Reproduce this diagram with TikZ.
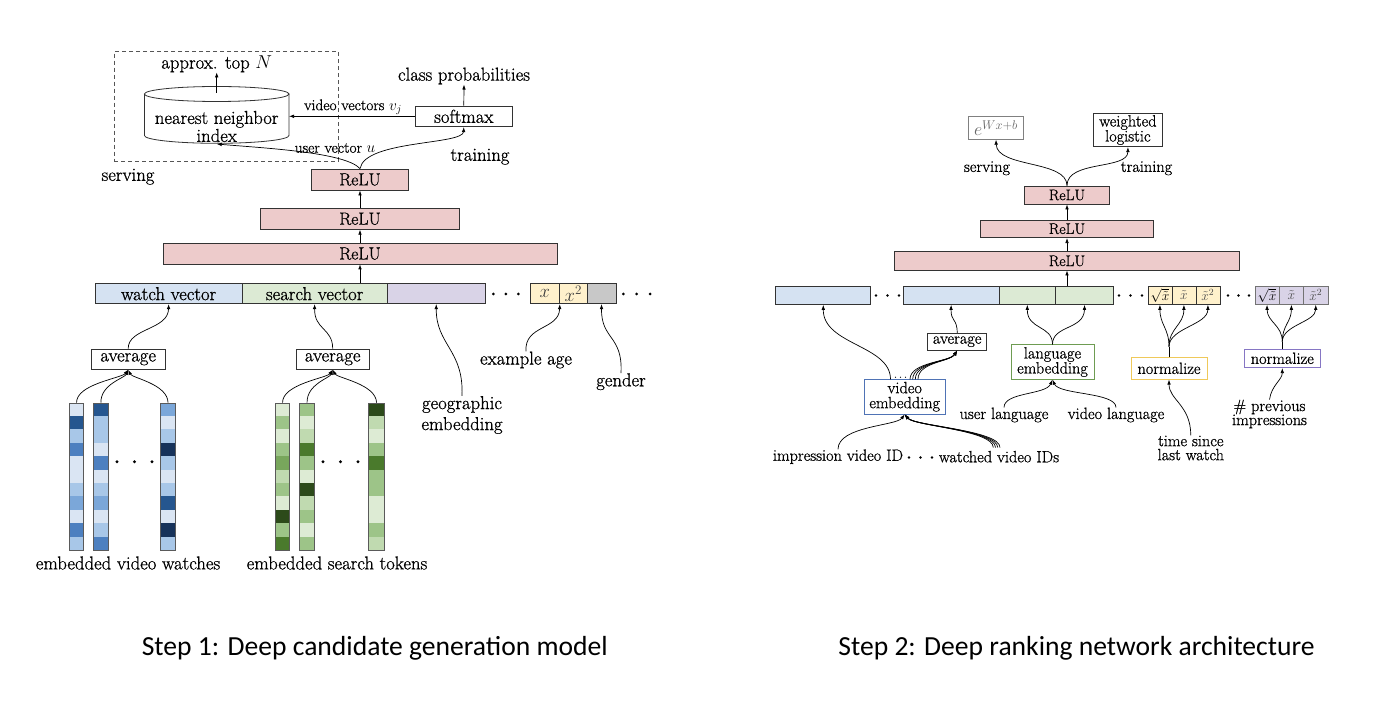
\RequirePackage{fix-cm}
\documentclass[tikz,border=0pt]{standalone}
\usepackage{fontspec}
\setmainfont{Latin Modern Roman}[FakeBold=0.8]
\newfontfamily\capfont{Carlito}
\usetikzlibrary{arrows.meta}
\definecolor{reluc}{HTML}{EDCBCB}
\definecolor{cblue}{HTML}{D5E2F2}
\definecolor{cgreen}{HTML}{DCEAD4}
\definecolor{cpurp}{HTML}{D9D3E7}
\definecolor{cyell}{HTML}{FFF1CC}
\definecolor{cgray}{HTML}{C8C8C8}
\definecolor{boxc}{HTML}{333333}
\definecolor{dashc}{HTML}{555555}
\definecolor{colbd}{HTML}{5A5A5A}
\definecolor{vembc}{HTML}{4F73B5}
\definecolor{lembc}{HTML}{6E9C52}
\definecolor{nyc}{HTML}{EFC95A}
\definecolor{npc}{HTML}{8676C4}
\definecolor{cbA}{HTML}{DAE5F3}
\definecolor{cbB}{HTML}{A8C7E8}
\definecolor{cbC}{HTML}{7BA7D9}
\definecolor{cbD}{HTML}{4D80C0}
\definecolor{cbE}{HTML}{25568F}
\definecolor{cbF}{HTML}{16325A}
\definecolor{cgA}{HTML}{DDEBD4}
\definecolor{cgB}{HTML}{C0DAB0}
\definecolor{cgC}{HTML}{9DC488}
\definecolor{cgD}{HTML}{78A65C}
\definecolor{cgE}{HTML}{4A7A2C}
\definecolor{cgF}{HTML}{2C4A1A}
\newcommand\fsL{\fontsize{18.7}{20}\selectfont}
\newcommand\fsM{\fontsize{17.6}{19}\selectfont}
\newcommand\fsR{\fontsize{16.3}{17}\selectfont}
\newcommand\fsRr{\fontsize{15.4}{16}\selectfont}
\newcommand\fsS{\fontsize{15.4}{16}\selectfont}
\newcommand\fsC{\fontsize{13.5}{14}\selectfont}
\newcommand\embcol[4]{%
  \foreach \cc [count=\ii] in {#4} {\fill[\cc] (#2,{402.7+(\ii-1)*13.391}) rectangle (#3,{402.7+\ii*13.391});}
  \node[colbox, minimum width={#3-#2}, minimum height=147.3, anchor=north west] (#1) at (#2,402.7) {};
}
\begin{document}
\begin{tikzpicture}[x=1pt,y=-1pt,
  bx/.style={draw=boxc, line width=0.8pt, inner sep=0pt, fill=white},
  seg/.style={bx, minimum height=20, font=\fsL},
  rseg/.style={bx, minimum height=18, font=\fsR},
  lbl/.style={inner sep=0pt, align=center},
  arr/.style={-{Latex[length=5pt,width=3.6pt]}, line width=0.7pt},
  colbox/.style={draw=colbd, line width=0.8pt, inner sep=0pt},
]
\useasboundingbox (0,0) rectangle (1374,708);
\fill[white] (0,0) rectangle (1374,708);

% ================= LEFT: candidate generation =================
\node[draw=dashc, line width=0.8pt, dash pattern=on 4pt off 3pt, inner sep=0pt,
      minimum width=224, minimum height=109.7, anchor=north west] (srv) at (114,51) {};
\node[lbl, font=\fsL] (apx) at (216.7,64) {approx. top $N$};
% cylinder
\draw[boxc, line width=0.8pt] (216.7,94) ellipse [x radius=72.3pt, y radius=7.5pt];
\draw[boxc, line width=0.8pt] (144.4,94) -- (144.4,135.5) arc[start angle=180, end angle=360, x radius=72.3pt, y radius=7.8pt] -- (289,94);
\node[lbl, font=\fsL] (nn) at (216.7,126.5) {nearest neighbor\\[-2pt]index};
\coordinate (cylt) at (216.7,93);
\coordinate (cylb) at (216.7,144);
\coordinate (cylr) at (289,116.3);

\node[bx, font=\fsL, minimum width=97.7, minimum height=20.7] (smx) at (463.8,116.3) {softmax};
\node[lbl, font=\fsL] (cp) at (464,76) {class probabilities};
\node[lbl, font=\fsS] (vvl) at (353,107) {video vectors $v_j$};
\node[lbl, font=\fsS] (uvl) at (335,148) {user vector $u$};
\node[lbl, font=\fsL] (trl) at (480,156.7) {training};
\node[lbl, font=\fsL] (svl) at (128,176.7) {serving};

\node[bx, fill=reluc, font=\fsM, minimum width=97, minimum height=21] (r1) at (360,179.5) {ReLU};
\node[bx, fill=reluc, font=\fsM, minimum width=198.5, minimum height=21] (r2) at (360,218.8) {ReLU};
\node[bx, fill=reluc, font=\fsM, minimum width=394, minimum height=20.7] (r3) at (360,253.6) {ReLU};

\draw[arr] (cylt) -- (apx.south);
\draw[arr] (smx.north) -- (cp.south);
\draw[arr] (smx.west) -- (cylr);
\draw[arr] (r1.north) .. controls (345,152) and (262,148) .. (cylb);
\draw[arr] (r1.north) .. controls (365,140) and (463,145) .. (smx.south);
\draw[arr] (r2.north) -- (r1.south);
\draw[arr] (r3.north) -- (r2.south);

% feature bar
\node[seg, fill=cblue, minimum width=146.5, anchor=north west] (wv) at (95,283.3) {watch vector};
\node[seg, fill=cgreen, minimum width=145.5, anchor=north west] (sv) at (241.5,283.3) {search vector};
\node[seg, fill=cpurp, minimum width=97.7, anchor=north west] (geo) at (387,283.3) {};
\foreach \x in {493.3,505.8,518.3} \fill (\x,294) circle (1.5pt);
\node[seg, fill=cyell, minimum width=29, anchor=north west] (fx) at (530,283.3) {\textcolor{black!75}{$x$}};
\node[seg, fill=cyell, minimum width=27.7, anchor=north west] (fx2) at (559,283.3) {\textcolor{black!75}{$x^2$}};
\node[seg, fill=cgray, minimum width=29, anchor=north west] (fg) at (586.7,283.3) {};
\foreach \x in {623.3,636.7,650} \fill (\x,294) circle (1.5pt);
\draw[arr] (r3.south |- sv.north) -- (r3.south);

\node[bx, font=\fsL, minimum width=73.7, minimum height=20.3] (avg1) at (128.2,359.2) {average};
\node[bx, font=\fsL, minimum width=73.3, minimum height=20.3] (avg2) at (332.7,359.2) {average};
\draw[arr] (avg1.north) .. controls (128,328) and (168.25,330) .. (wv.south);
\draw[arr] (avg2.north) .. controls (332.7,328) and (314.25,330) .. (sv.south);

\node[lbl, font=\fsL] (geol) at (462,415) {geographic\\[1pt]embedding};
\node[lbl, font=\fsL] (eal) at (526,360) {example age};
\node[lbl, font=\fsL] (gdl) at (621,381.7) {gender};
\draw[arr] (geol.north) .. controls (464,350) and (436,345) .. (geo.south);
\draw[arr] (eal.north) .. controls (524,325) and (559,330) .. (fx.south east);
\draw[arr] (gdl.north) .. controls (623,335) and (601,340) .. (fg.south);

% embedding columns
\embcol{bc1}{69}{83.3}{cbA,cbE,cbB,cbD,cbA,cbA,cbB,cbC,cbA,cbD,cbB}
\embcol{bc2}{93.3}{107.7}{cbE,cbB,cbB,cbA,cbD,cbA,cbB,cbC,cbA,cbB,cbD}
\embcol{bc3}{160}{175.3}{cbC,cbA,cbB,cbF,cbB,cbA,cbB,cbE,cbA,cbF,cbB}
\embcol{gc1}{275}{289.3}{cgA,cgC,cgA,cgC,cgD,cgB,cgC,cgA,cgF,cgC,cgE}
\embcol{gc2}{299.3}{314}{cgC,cgA,cgB,cgE,cgC,cgA,cgF,cgB,cgC,cgA,cgC}
\embcol{gc3}{368.3}{384}{cgF,cgB,cgA,cgC,cgE,cgC,cgC,cgA,cgA,cgC,cgB}
\foreach \x in {117,134.5,152} \fill (\x,461.7) circle (1.6pt);
\foreach \x in {323,340.5,358} \fill (\x,461.7) circle (1.6pt);

\draw[arr] (bc1.north) .. controls (76.2,384) and (122,378) .. (avg1.south);
\draw[arr] (bc2.north) .. controls (100.5,384) and (125,378) .. (avg1.south);
\draw[arr] (bc3.north) .. controls (167.7,384) and (132,378) .. (avg1.south);
\draw[arr] (gc1.north) .. controls (282.2,384) and (327,378) .. (avg2.south);
\draw[arr] (gc2.north) .. controls (306.7,384) and (330,378) .. (avg2.south);
\draw[arr] (gc3.north) .. controls (376.2,384) and (337,378) .. (avg2.south);

\node[lbl, font=\fsL] (evw) at (128,563) {embedded video watches};
\node[lbl, font=\fsL] (est) at (337,563) {embedded search tokens};

% ================= RIGHT: ranking =================
\node[bx, draw=black!50, font=\fontsize{18}{18}\selectfont, minimum width=55, minimum height=22.6] (ebox) at (996,128) {\textcolor{black!60}{$e^{Wx+b}$}};
\node[bx, font=\fsR, minimum width=68.2, minimum height=33.4, align=center] (wl) at (1127.9,130) {weighted\\[-2pt]logistic};
\node[lbl, font=\fsR] (rsv) at (987,168.3) {serving};
\node[lbl, font=\fsR] (rtr) at (1146.5,168.3) {training};

\node[bx, fill=reluc, font=\fsRr, minimum width=84.4, minimum height=18] (q1) at (1067,195) {ReLU};
\node[bx, fill=reluc, font=\fsRr, minimum width=173, minimum height=17.7] (q2) at (1067,228.8) {ReLU};
\node[bx, fill=reluc, font=\fsRr, minimum width=345, minimum height=18.3] (q3) at (1067,260.9) {ReLU};
\draw[arr] (q1.north) .. controls (1067,160) and (997,168) .. (ebox.south);
\draw[arr] (q1.north) .. controls (1067,160) and (1128,170) .. (wl.south);
\draw[arr] (q2.north) -- (q1.south);
\draw[arr] (q3.north) -- (q2.south);

% feature bar
\node[rseg, fill=cblue, minimum width=95, anchor=north west] (rb1) at (775.4,286) {};
\foreach \x in {876,887.5,899} \fill (\x,295.5) circle (1.4pt);
\node[rseg, fill=cblue, minimum width=95.5, anchor=north west] (rb2) at (903,286) {};
\node[rseg, fill=cgreen, minimum width=56.9, anchor=north west] (rg1) at (998.5,286) {};
\node[rseg, fill=cgreen, minimum width=57.6, anchor=north west] (rg2) at (1055.4,286) {};
\foreach \x in {1119,1130.5,1142} \fill (\x,295.5) circle (1.4pt);
\node[rseg, fill=cyell, minimum width=24, anchor=north west, font=\fsC] (ry1) at (1147.5,286) {$\sqrt{\tilde{x}}$};
\node[rseg, fill=cyell, minimum width=24, anchor=north west, font=\fsC] (ry2) at (1171.5,286) {\textcolor{black!70}{$\tilde{x}$}};
\node[rseg, fill=cyell, minimum width=24, anchor=north west, font=\fsC] (ry3) at (1195.5,286) {\textcolor{black!70}{$\tilde{x}^2$}};
\foreach \x in {1228,1238.5,1249} \fill (\x,295.5) circle (1.4pt);
\node[rseg, draw=black!55, fill=cpurp, minimum width=24.3, anchor=north west, font=\fsC] (rp1) at (1254.5,286) {$\sqrt{\tilde{x}}$};
\node[rseg, draw=black!55, fill=cpurp, minimum width=24.4, anchor=north west, font=\fsC] (rp2) at (1278.8,286) {\textcolor{black!70}{$\tilde{x}$}};
\node[rseg, draw=black!55, fill=cpurp, minimum width=24.3, anchor=north west, font=\fsC] (rp3) at (1303.2,286) {\textcolor{black!70}{$\tilde{x}^2$}};
\draw[arr] (q3.south |- rg2.north) -- (q3.south);

% lower boxes
\node[bx, font=\fsR, minimum width=59, minimum height=16.7] (ravg) at (957.2,341.7) {average};
\node[bx, draw=vembc, font=\fsR, minimum width=80.7, minimum height=34.7, align=center] (vemb) at (904.7,396.7) {video\\[-2pt]embedding};
\node[bx, draw=lembc, font=\fsR, minimum width=83, minimum height=34.5, align=center] (lemb) at (1052.5,362) {language\\[-2pt]embedding};
\node[bx, draw=nyc, line width=1pt, font=\fsR, minimum width=76, minimum height=21.5] (ny) at (1169,368.3) {normalize};
\node[bx, draw=npc, line width=1pt, font=\fsR, minimum width=76, minimum height=18.5] (np) at (1282.3,358.3) {normalize};

\node[lbl, font=\fsR] (ul) at (1004,415) {user language};
\node[lbl, font=\fsR] (vl) at (1116,415) {video language};
\node[lbl, font=\fsR] (tsl) at (1190.8,448) {time since\\[-3pt]last watch};
\node[lbl, font=\fsR] (npi) at (1269.5,414) {\# previous\\[-3pt]impressions};
\node[lbl, font=\fsR] (imp) at (838,456.7) {impression video ID};
\foreach \x in {909,920.5,932} \fill (\x,457.5) circle (1.4pt);
\node[lbl, font=\fsR] (wat) at (999,456.7) {watched video IDs};

% video embedding wiring
\coordinate (ve0) at (890.5,379.3);
\foreach \x in {895.5,900.5,905.5} \fill (\x,377.3) circle (0.6pt);
\draw[arr] (ve0) .. controls (890.5,345) and (822.9,345) .. (rb1.south);
\foreach \x [count=\k] in {910,912.7,915.3,918} {
  \coordinate (vt\k) at (\x,379.3);
  \draw[arr] (vt\k) .. controls (\x,362) and (950,362) .. (ravg.south);
}
\draw[arr] (ravg.north) .. controls (957.2,318) and (950.75,322) .. (rb2.south);
\draw[arr] (imp.north) .. controls (838,426) and (896,426) .. (vemb.south);
\foreach \x [count=\k] in {993.3,995.5,997.7,1000} {
  \coordinate (wt\k) at (\x,447.5);
  \draw[arr] (wt\k) .. controls (\x,430) and (914,426) .. (vemb.south);
}
% language
\draw[arr] (lemb.north) .. controls (1052.5,325) and (1027,330) .. (rg1.south);
\draw[arr] (lemb.north) .. controls (1052.5,325) and (1084,330) .. (rg2.south);
\draw[arr] (ul.north) .. controls (1004,392) and (1046,395) .. (lemb.south);
\draw[arr] (vl.north) .. controls (1116,392) and (1059,395) .. (lemb.south);
% normalize yellow
\coordinate (nyc0) at (1169,346.7);
\draw[line width=0.7pt] (ny.north) -- (nyc0);
\draw[arr] (nyc0) .. controls (1169,328) and (ry1.south |- 0,325) .. (ry1.south);
\draw[arr] (nyc0) .. controls (1169,328) and (ry2.south |- 0,325) .. (ry2.south);
\draw[arr] (nyc0) .. controls (1169,328) and (ry3.south |- 0,325) .. (ry3.south);
\draw[arr] (tsl.north) .. controls (1190.8,405) and (1169,400) .. (ny.south);
% normalize purple
\coordinate (npc0) at (1282.3,341.7);
\draw[line width=0.7pt] (np.north) -- (npc0);
\draw[arr] (npc0) .. controls (1282.3,325) and (rp1.south |- 0,322) .. (rp1.south);
\draw[arr] (npc0) .. controls (1282.3,325) and (rp2.south |- 0,322) .. (rp2.south);
\draw[arr] (npc0) .. controls (1282.3,325) and (rp3.south |- 0,322) .. (rp3.south);
\draw[arr] (npi.north) .. controls (1271.5,385) and (1282.3,380) .. (np.south);

% captions
\node[lbl, font=\capfont\fontsize{27.6}{30}\selectfont] (cap1) at (374.8,648) {Step 1: Deep candidate generation model};
\node[lbl, font=\capfont\fontsize{27.6}{30}\selectfont] (cap2) at (1076.5,648) {Step 2: Deep ranking network architecture};
\end{tikzpicture}
\end{document}
